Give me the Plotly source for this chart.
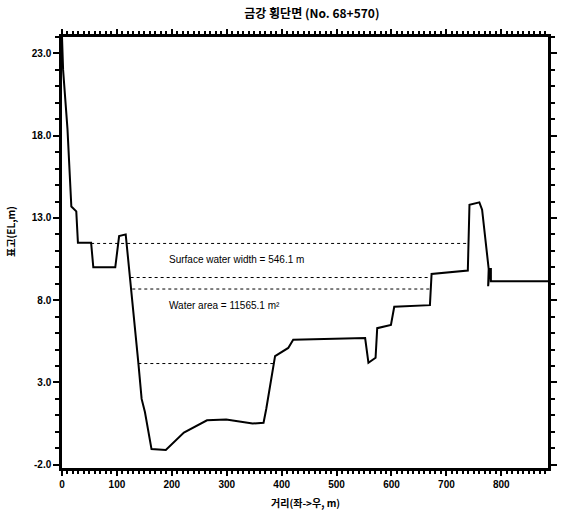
import plotly.graph_objects as go

# Cross-section survey of the river bed: station distance (m) and ground elevation (EL. m)
distance_m = [0, 2, 10, 17, 26, 29, 53, 57, 97, 104, 116, 124, 130, 139, 145, 151,
              163, 189, 222, 264, 299, 347, 367, 372, 388, 412, 421, 552, 558, 571,
              574, 596, 599, 605, 670, 673, 739, 742, 760, 765, 777, 776, 779, 781,
              781, 885]
elevation_m = [24.0, 22.0, 18.4, 13.7, 13.4, 11.5, 11.5, 10.0, 10.0, 11.9, 12.0, 9.4,
               7.3, 4.2, 2.0, 1.2, -1.05, -1.1, -0.05, 0.7, 0.75, 0.5, 0.55, 1.4, 4.6,
               5.1, 5.6, 5.7, 4.2, 4.5, 6.3, 6.5, 6.5, 7.6, 7.7, 9.6, 9.8, 13.8, 13.95,
               13.5, 9.9, 8.85, 9.9, 9.9, 9.15, 9.15]

# Water levels (elevation, start and end distance)
level_elev = [11.45, 9.38, 8.68, 4.15]
level_start = [53, 125, 128, 139]
level_end = [739, 671, 671, 385]

surface_width = 546.1
water_area = 11565.1

y_ticks = [-2, 3, 8, 13, 18, 23]
x_ticks = [0, 100, 200, 300, 400, 500, 600, 700, 800]

tick_font = dict(family="Liberation Sans Narrow, Liberation Sans, Arial", size=10,
                 color="black", weight="bold")
kr_font = "Noto Sans CJK KR"

fig = go.Figure()

for elev, x0, x1 in zip(level_elev, level_start, level_end):
    fig.add_trace(go.Scatter(
        x=[x0, x1], y=[elev, elev], mode="lines",
        line=dict(color="black", width=1, dash="dot"),
        hoverinfo="skip", showlegend=False,
    ))

fig.add_trace(go.Scatter(
    x=distance_m, y=elevation_m, mode="lines",
    line=dict(color="black", width=2),
    showlegend=False,
))

fig.add_annotation(
    x=192, y=10.5, xref="x", yref="y", xanchor="left", yanchor="middle",
    text=f"Surface water width = {surface_width:.1f} m", showarrow=False,
    font=dict(family="Liberation Sans Narrow, Liberation Sans, Arial", size=10, color="black"),
)
fig.add_annotation(
    x=192, y=7.7, xref="x", yref="y", xanchor="left", yanchor="middle",
    text=f"Water area = {water_area:.1f} m²", showarrow=False,
    font=dict(family="Liberation Sans Narrow, Liberation Sans, Arial", size=10, color="black"),
)

# Axis titles
fig.add_annotation(
    x=0.5, y=-0.081, xref="paper", yref="paper", xanchor="center", yanchor="middle",
    text="거리(좌->우, m)", showarrow=False,
    font=dict(family=kr_font, size=10, color="black", weight="bold"),
)
fig.add_annotation(
    x=-0.105, y=0.55, xref="paper", yref="paper", xanchor="center", yanchor="middle",
    text="표고(EL,m)", showarrow=False, textangle=-90,
    font=dict(family=kr_font, size=10, color="black", weight="bold"),
)

fig.update_layout(
    width=567, height=515,
    margin=dict(l=62, r=10, t=37, b=47),
    paper_bgcolor="white", plot_bgcolor="white",
    title=dict(
        text="금강 횡단면 (No. 68+570)",
        x=0.55, xanchor="center", y=1 - 14 / 515, yanchor="middle",
        font=dict(family=kr_font, size=12, color="black", weight="bold"),
    ),
    xaxis=dict(
        range=[0, 885], tickvals=x_ticks, ticktext=[str(v) for v in x_ticks],
        showgrid=False, zeroline=False,
        showline=True, linecolor="black", linewidth=2.5, mirror="allticks",
        ticks="outside", ticklen=5, tickwidth=1.5, tickcolor="black",
        minor=dict(dtick=10, tick0=0, ticks="outside", ticklen=3, tickcolor="black",
                   showgrid=False),
        tickfont=tick_font,
    ),
    yaxis=dict(
        range=[-2.2, 24.0], tickvals=y_ticks, ticktext=[f"{v:.1f}" for v in y_ticks],
        showgrid=False, zeroline=False,
        showline=True, linecolor="black", linewidth=2.5, mirror="allticks",
        ticks="outside", ticklen=6, tickwidth=1.5, tickcolor="black",
        minor=dict(dtick=1, tick0=-2, ticks="outside", ticklen=4, tickcolor="black",
                   showgrid=False),
        tickfont=tick_font,
    ),
)

fig.write_html("out.html")
